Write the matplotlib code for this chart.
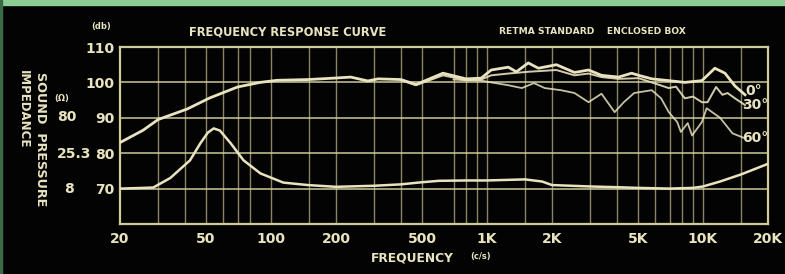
import numpy as np
import matplotlib
matplotlib.use('Agg')
import matplotlib.pyplot as plt
from matplotlib.patches import Rectangle

# ---------------------------------------------------------------
# data (frequency in c/s, level in db)
# ---------------------------------------------------------------
f_0deg = [20, 25.6, 30, 41, 52, 70, 89, 107, 148, 195, 234, 281, 313, 400,
          469, 626, 800, 940, 1046, 1255, 1368, 1553, 1730, 2095, 2543, 2952,
          3390, 4065, 4675, 5035, 5790, 6945, 8240, 9885, 11350, 12640, 14060,
          15660]
db_0deg = [83, 86.5, 89.5, 92.5, 95.6, 98.7, 100, 100.6, 100.8, 101.2, 101.5,
           100.4, 101, 100.8, 99.4, 102.6, 101, 101.2, 103.5, 104.3, 103,
           105.5, 104, 105, 102.8, 103.5, 102, 101.5, 102.6, 102, 101, 100.5,
           100, 100.5, 104, 102.6, 99, 96.5]

f_30deg = [400, 469, 626, 800, 940, 1046, 1255, 1553, 2095, 2543, 2952, 3390,
           4065, 5035, 5790, 6945, 7500, 8240, 9000, 9885, 10500, 11500,
           12300, 13000, 14060, 15660]
db_30deg = [100.6, 99.2, 102, 100.6, 100.8, 102, 102.5, 103, 103.5, 102,
            102.5, 101.5, 101, 101.2, 100, 98.4, 98.8, 95.5, 96, 94.4, 94.4,
            98.7, 96.5, 97, 95.5, 93.6]

f_60deg = [700, 800, 940, 1046, 1255, 1450, 1650, 1850, 2200, 2543, 2952,
           3390, 3900, 4300, 4800, 5790, 6400, 6945, 7600, 7900, 8500, 8900,
           9885, 10400, 12000, 13700, 15660]
db_60deg = [100.8, 100.6, 100.5, 100, 99.2, 98.4, 99.8, 98.4, 97.8, 97, 94.4,
            96.8, 91.6, 94.4, 97, 97.8, 95.5, 91.6, 88.8, 86, 88.5, 85, 88.8,
            92.7, 90, 85.6, 84.2]

f_imp = [20, 25.6, 28.5, 34.2, 42.2, 47.1, 51, 54.3, 58, 65.1, 74.6, 89.3,
         114, 148, 200, 300, 400, 500, 600, 800, 1000, 1500, 1800, 2000, 3000,
         4000, 5000, 7000, 9000, 10000, 12000, 15000, 20000]
db_imp = [70, 70.2, 70.3, 73, 78, 82.8, 85.8, 87, 86.4, 82.8, 78, 74.3, 71.7,
          71, 70.5, 70.8, 71.2, 71.8, 72.2, 72.3, 72.3, 72.6, 72, 71, 70.6,
          70.4, 70.2, 70, 70.2, 70.6, 72, 74, 77]

x_ticks = [20, 50, 100, 200, 500, 1000, 2000, 5000, 10000, 20000]
x_tick_labels = ['20', '50', '100', '200', '500', '1K', '2K', '5K', '10K', '20K']
x_grid = [30, 40, 50, 60, 70, 80, 100, 150, 200, 300, 400, 500, 700, 800, 900,
          1000, 1500, 2000, 3000, 4000, 5000, 6000, 7000, 8000, 9000, 10000,
          15000]
y_ticks = [70, 80, 90, 100, 110]
imp_labels = ['80', '25.3', '8']          # ohm values at 90, 80, 70 db


W, H = 785, 274
cream = '#e9e3bf'
gridc = '#cfcc9c'
narrow = ['DejaVu Sans Condensed', 'Liberation Sans Narrow', 'DejaVu Sans']

plt.rcParams['font.family'] = narrow
plt.rcParams['font.weight'] = 'bold'

fig = plt.figure(figsize=(W / 100, H / 100), dpi=100, facecolor='#030303')
ax = fig.add_axes([120 / W, 1 - 224 / H, 648 / W, 177 / H], facecolor='#030303')


def ftxt(x, y, s, **kw):
    # place text using pixel coordinates of the scan
    kw.setdefault('color', cream)
    kw.setdefault('fontweight', 'bold')
    fig.text(x / W, 1 - y / H, s, **kw)


# green strip at the top edge of the scan
fig.patches.append(Rectangle((0, 1 - 5 / H), 1, 5 / H, transform=fig.transFigure,
                             color='#8ccf95', zorder=0))
fig.patches.append(Rectangle((0, 0), 2 / W, 1, transform=fig.transFigure,
                             color='#3b6a45', zorder=0))

ax.set_xscale('log')
ax.set_xlim(20, 20000)
ax.set_ylim(60, 110)

for xv in x_grid:
    ax.axvline(xv, color=gridc, lw=1.0, alpha=0.65, zorder=1)
for yv in y_ticks[:-1]:
    ax.axhline(yv, color=gridc, lw=1.2, alpha=0.9, zorder=1)

for s in ax.spines.values():
    s.set_color(gridc)
    s.set_linewidth(1.6)

ax.plot(f_imp, db_imp, color=cream, lw=1.8, solid_joinstyle='round', zorder=3)
ax.plot(f_60deg, db_60deg, color=cream, lw=1.3, alpha=0.85,
        solid_joinstyle='round', zorder=3)
ax.plot(f_30deg, db_30deg, color=cream, lw=1.4, alpha=0.9,
        solid_joinstyle='round', zorder=3)
ax.plot(f_0deg, db_0deg, color=cream, lw=2.0, solid_joinstyle='round', zorder=4)

ax.set_xticks(x_ticks)
ax.set_xticklabels(x_tick_labels)
ax.xaxis.set_minor_locator(matplotlib.ticker.NullLocator())
ax.set_yticks(y_ticks)
ax.set_yticklabels([str(v) for v in y_ticks])
ax.tick_params(axis='both', length=0, colors=cream, labelsize=10)
ax.tick_params(axis='x', pad=6)
ax.tick_params(axis='y', pad=4)

# impedance scale, left of the db scale
ftxt(57, 117, imp_labels[0], fontsize=10, ha='left', va='center')
ftxt(57, 154, imp_labels[1], fontsize=10, ha='left', va='center')
ftxt(69, 189, imp_labels[2], fontsize=10, ha='center', va='center')
ftxt(62, 98, '(\u03a9)', fontsize=6, ha='center', va='center')
ftxt(101, 27, '(db)', fontsize=6, ha='center', va='center')

ftxt(40, 139, 'SOUND  PRESSURE', fontsize=9.2, rotation=-90, ha='center',
     va='center', family=['DejaVu Sans'])
ftxt(23, 109, 'IMPEDANCE', fontsize=8.5, rotation=-90, ha='center',
     va='center', family=['DejaVu Sans'])

ftxt(288, 32, 'FREQUENCY RESPONSE CURVE', fontsize=8.3, ha='center',
     va='center', family=['DejaVu Sans'])
ftxt(592, 32, 'RETMA STANDARD    ENCLOSED BOX', fontsize=6.6, ha='center',
     va='center', family=['DejaVu Sans'])
ftxt(412, 258, 'FREQUENCY', fontsize=8.8, ha='center', va='center',
     family=['DejaVu Sans'])
ftxt(481, 257, '(c/s)', fontsize=6, ha='center', va='center')

# angle labels at the right end of the curves
ftxt(754, 91, '0\u00b0', fontsize=10, ha='center', va='center')
ftxt(755, 105, '30\u00b0', fontsize=10, ha='center', va='center')
ftxt(755, 138, '60\u00b0', fontsize=10, ha='center', va='center')

fig.savefig('out.png', dpi=100, facecolor=fig.get_facecolor())
